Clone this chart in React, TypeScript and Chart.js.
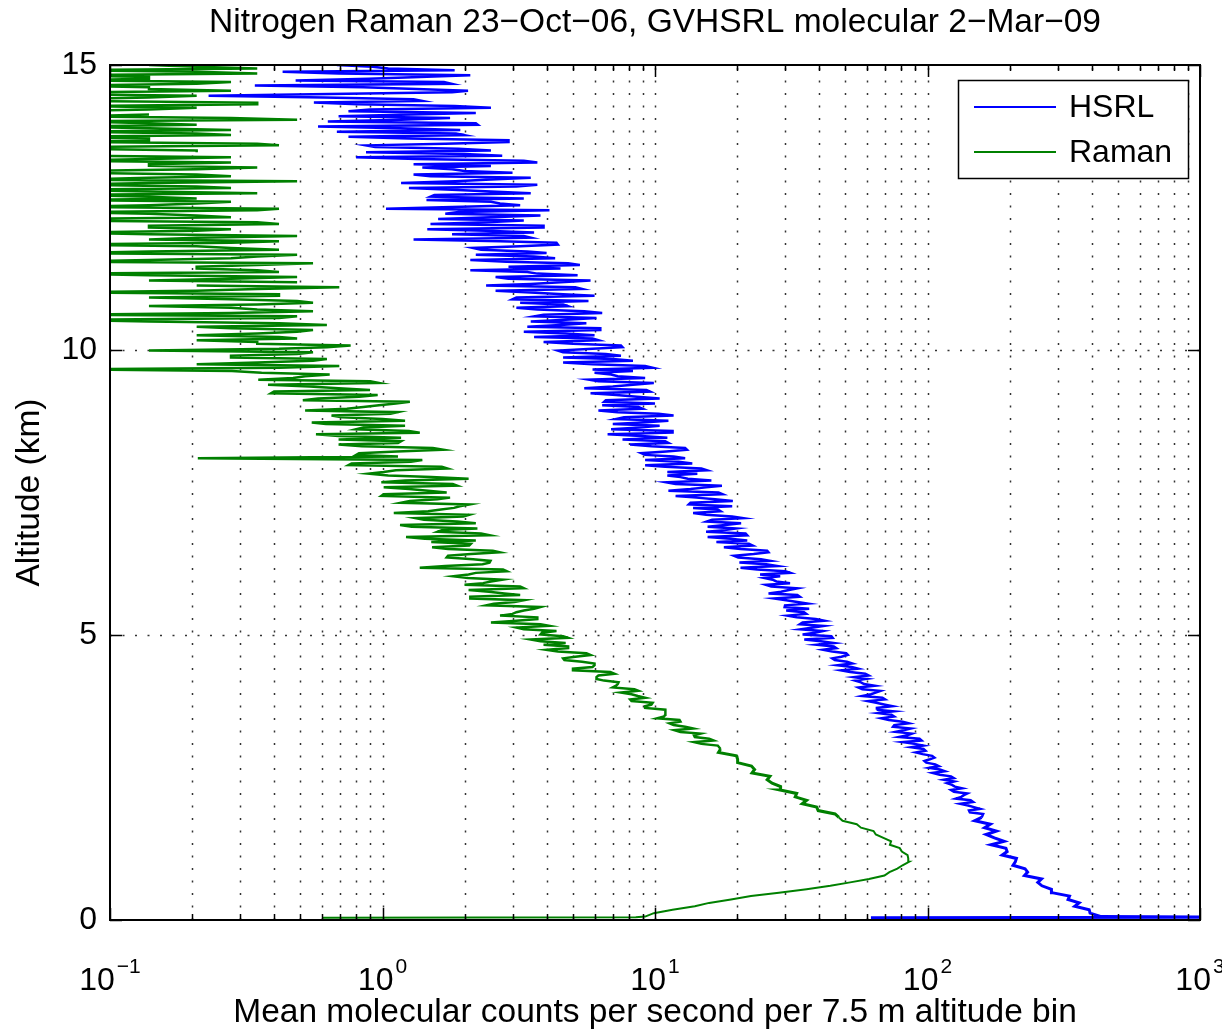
import React, { useEffect, useRef } from "react";
import { Chart, registerables } from "chart.js";

Chart.register(...registerables);

const FONT = '"Liberation Sans", Arial, Helvetica, sans-serif';

// ---------- data ----------
const binKm = 0.06; // altitude spacing of the profile samples (km)

const hsrlSurfaceAltKm = [0.04, 0.05];
const hsrlSurfaceCounts = [62, 1200];
// samples at altitude (i+1)*binKm
const hsrlCounts = [
  434, 395, 392, 347, 360, 328, 332, 286, 285, 263,
  254, 262, 227, 233, 228, 206, 210, 212, 188, 196,
  194, 171, 191, 176, 164, 179, 162, 170, 149, 158,
  160, 142, 148, 132, 144, 133, 140, 122, 126, 118,
  115, 122, 104.5, 111, 110, 99, 102, 104, 90.6, 96.7,
  96.6, 81, 93.5, 84.3, 76.3, 86.7, 75.5, 81, 67.7, 73.7,
  75.3, 65.2, 69.2, 60.4, 68.3, 62, 67.2, 55.8, 58.5, 54.3,
  53.8, 59.1, 48.1, 52.7, 52.9, 45.7, 48.3, 50.3, 41.4, 45.3,
  45.3, 35.3, 44.4, 38.6, 34.3, 41.7, 34.8, 38.9, 30.6, 35.2,
  36.8, 30, 33.3, 27.4, 33.3, 29, 33.3, 25.5, 27.9, 25.2,
  24.3, 30.1, 20.6, 25.6, 26.5, 20.2, 23, 25.8, 17.9, 22.1,
  21.8, 15.6, 21.5, 18, 15.6, 20.7, 16.2, 19.2, 13.8, 17,
  19.2, 13.5, 16.6, 11.9, 17.1, 13.5, 17.6, 11, 13.2, 11.1,
  11.1, 14.8, 9.2, 12.2, 12.9, 9.2, 11, 12.9, 8.1, 10.9,
  11.1, 6.7, 11.6, 8.8, 7.0, 11.2, 7.7, 10.3, 6.2, 8.7,
  10, 6.6, 8.6, 5.8, 9.3, 7.0, 9.9, 5.7, 7.3, 6.0,
  5.9, 9.2, 4.6, 7.0, 7.5, 4.6, 5.9, 7.5, 3.9, 5.9,
  6.0, 3.3, 6.3, 4.5, 3.5, 6.1, 3.9, 5.5, 3.1, 4.6,
  5.7, 3.1, 4.6, 2.6, 5.1, 3.5, 5.8, 2.6, 3.7, 2.1,
  2.9, 4.8, 2.1, 3.6, 4.0, 2.3, 3.2, 4.35, 1.3, 3.3,
  3.6, 1.46, 3.9, 2.4, 1.6, 3.8, 1.9, 1.03, 3.2, 2.5,
  3.3, 1.55, 2.5, 1.25, 3.7, 1.85, 3.5, 1.3, 2.0, 1.4,
  1.3, 3.3, 0.8, 2.0, 2.5, 0.94, 1.7, 2.9, 0.75, 1.86,
  1.93, 0.58, 2.2, 1.17, 0.69, 2.2, 0.9, 1.84, 0.56, 1.3,
  0.23, 1.8, 1.33, 0.34, 1.68, 0.89, 2.1, 0.43, 1.05, 0.68,
];
// in-between samples at altitude (hsrlMidStartBin + k + 0.5)*binKm
const hsrlMidStartBin = 31;
const hsrlMidCounts = [
  143, 156, 141, 147, 127, 136, 125, 134, 123, 125,
  124.9, 110.9, 115.7, 101.5, 106.8, 97.4, 106, 95.9, 98.3, 87.3,
  89.5, 95.1, 78.7, 87.7, 81.6, 74.7, 85.5, 72.1, 75.4, 66,
  65.1, 74.3, 64.9, 69.9, 57.7, 64.5, 57.7, 64, 57, 59.8,
  60.8, 52, 55.7, 46.8, 50.6, 44.7, 51, 44.7, 46.3, 39.3,
  40.6, 44.9, 34.8, 41.3, 38.1, 34, 41.8, 33.1, 35.9, 30.3,
  29.9, 36.4, 30.3, 34, 26.1, 31, 26.7, 31.3, 27, 28.8,
  31.4, 23.7, 28.1, 20.4, 24.5, 19.5, 26.1, 20.6, 22.8, 16.8,
  18.9, 21.8, 15.4, 19.9, 18.1, 15.5, 21.1, 15.4, 17.4, 13.8,
  13.3, 19.3, 14.2, 17.7, 11.2, 15.4, 11.9, 16.1, 12.4, 14.3,
  15.5, 10.9, 13.7, 9.2, 11.7, 8.9, 13.1, 9.7, 11.2, 7.6,
  8.9, 11.6, 6.9, 10.4, 9.0, 7.2, 11.7, 7.3, 9.0, 6.4,
  6.5, 10.4, 7.2, 9.6, 5.5, 8.3, 6.2, 9.2, 6.9, 8.3,
  9.8, 5.9, 8.3, 4.6, 6.6, 4.4, 7.6, 5.0, 6.2, 3.6,
  4.7, 6.3, 3.4, 5.6, 4.7, 3.6, 6.4, 3.7, 4.8, 3.2,
  3.0, 6.0, 3.5, 5.4, 2.4, 4.5, 2.9, 5.2, 3.4, 4.5,
  5.3, 2.85, 4.3, 2.2, 3.4, 2.15, 4.4, 2.7, 3.5, 1.8,
  2.4, 3.9, 1.5, 3.3, 2.5, 1.7, 4.1, 1.8, 2.7, 1.45,
  1.5, 3.5, 1.8, 3.1, 1.17, 2.5, 1.5, 3.0, 1.8, 2.5,
  3.7, 1.34, 2.75, 0.87, 1.9, 0.87, 2.9, 1.25, 2.0, 0.68,
  1.16, 2.24, 0.63, 1.77, 1.27, 0.75, 2.5, 0.81, 1.4, 0.61,
  0.64, 2.06, 0.85, 1.79, 0.48, 1.37, 0.69, 1.84, 0.92,
];

const ramanSurfaceAltKm = [0.04, 0.05];
const ramanSurfaceCounts = [0.6, 8.5];
const ramanCounts = [
  9.2, 9.9, 11.6, 14.0, 15.8, 19.0, 22.5, 28.5, 36, 44,
  52, 61, 69.5, 72.5, 77.5, 81, 85.5, 85, 84.5, 80.5,
  79.1, 72.8, 73.5, 68.9, 64.6, 63.4, 57, 55, 48.8, 47.3,
  45.8, 39.7, 39.2, 34.7, 36, 32.7, 33.1, 28.8, 28.9, 26.9,
  25.8, 26.4, 22.7, 23.2, 22.6, 20.1, 20.1, 19.9, 17.1, 17.4,
  17, 13.9, 15.8, 13.9, 12.4, 13.8, 11.7, 12.4, 10.2, 10.9,
  10.9, 9.2, 9.7, 8.2, 9.2, 8.2, 8.7, 7.0, 7.3, 6.5,
  6.1, 7.1, 5.0, 5.9, 6.0, 4.65, 5.1, 5.6, 4.0, 4.8,
  4.7, 3.5, 4.6, 3.85, 3.3, 4.1, 2.5, 3.7, 2.7, 3.1,
  3.6, 2.4, 3.05, 2.1, 3.2, 2.46, 3.3, 2.0, 2.5, 2.06,
  2.07, 2.86, 1.37, 2.33, 2.49, 1.72, 2.11, 2.54, 1.52, 2.11,
  2.2, 1.22, 2.3, 1.65, 1.28, 2.2, 1.42, 1.98, 1.1, 1.64,
  1.92, 1.17, 1.59, 0.99, 1.72, 1.25, 1.88, 0.99, 2.07, 1.05,
  1.01, 1.73, 0.75, 1.27, 0.21, 0.8, 1.13, 1.53, 0.69, 1.17,
  1.17, 0.57, 1.25, 0.85, 0.62, 1.21, 0.71, 1.07, 0.52, 0.85,
  1.12, 0.51, 0.82, 0.39, 0.9, 0.54, 0.97, 0.35, 0.52, 0.36,
  0.069, 0.694, 0.347, 0.625, 0.278, 0.556, 0.417, 0.764, 0.347, 0.486,
  0.208, 0.486, 0.278, 0.625, 0.139, 0.417, 0.069, 0.556, 0.278, 0.347,
  0.486, 0.139, 0.417, 0.208, 0.694, 0, 0.139, 0.486, 0.069, 0.347,
  0.208, 0.556, 0.139, 0.347, 0.069, 0.417, 0.208, 0.278, 0.139, 0.486,
  0.069, 0.278, 0.139, 0.347, 0.069, 0.208, 0.069, 0.417, 0.139, 0.278,
  0.208, 0.069, 0.139, 0.278, 0.069, 0.486, 0.139, 0.208, 0.069, 0.347,
  0.139, 0.069, 0.278, 0, 0.208, 0.069, 0.347, 0.139, 0.069, 0.208,
  0.278, 0.069, 0.139, 0.486, 0.069, 0, 0.139, 0.069, 0.347, 0.069,
  0.208, 0.069, 0.139, 0.069, 0.278, 0.139, 0.069, 0.208, 0.347, 0.139,
];
const ramanMidStartBin = 51;
const ramanMidCounts = [
  14.8, 16.4, 14, 14.7, 11.8, 12.9, 11.3, 12.3, 10.8, 10.95,
  10.9, 9.2, 9.8, 8.1, 8.65, 7.5, 8.4, 7.2, 7.35, 6.1,
  6.2, 6.85, 5.0, 6.0, 5.4, 4.6, 5.8, 4.4, 4.8, 3.9,
  3.8, 4.8, 3.8, 4.35, 3.1, 3.8, 3.1, 3.7, 3.0, 3.3,
  3.8, 2.56, 3.3, 2.1, 2.8, 2.07, 3.2, 2.34, 2.75, 1.82,
  2.2, 2.77, 1.7, 2.47, 2.15, 1.74, 2.7, 1.74, 2.08, 1.51,
  1.43, 2.47, 1.59, 2.23, 1.16, 1.88, 1.32, 2.08, 1.47, 1.83,
  2.08, 1.26, 1.77, 1.01, 1.47, 1.01, 1.81, 1.21, 1.51, 0.89,
  1.12, 1.65, 0.77, 1.4, 1.14, 0.82, 1.67, 0.84, 1.14, 0.69,
  0.69, 1.37, 0.8, 1.21, 0.55, 1.0, 0.65, 1.14, 0.74, 0.97,
  1.26, 0.58, 0.96, 0.4, 0.69, 0.38, 0.9, 0.47, 0.64, 0.28,
  0.417, 0.208, 0.556, 0.278, 0.486, 0.139, 0.625, 0.347, 0.208, 0.417,
  0.347, 0.556, 0.208, 0.417, 0.069, 0.486, 0.278, 0.347, 0.139, 0.556,
  0.278, 0.417, 0.069, 0.347, 0.208, 0.486, 0.278, 0.139, 0.417, 0.208,
  0.347, 0.069, 0.278, 0.486, 0.139, 0.278, 0.069, 0.417, 0.208, 0.139,
  0.208, 0.139, 0.417, 0.069, 0.278, 0.139, 0.347, 0.069, 0.208, 0.069,
  0.139, 0.347, 0.069, 0.208, 0.139, 0.069, 0.278, 0.069, 0.208, 0.139,
  0.278, 0.139, 0.069, 0.208, 0.069, 0.417, 0.069, 0.139, 0.278, 0.069,
  0.139, 0.208, 0.069, 0.278, 0.139, 0.069, 0.208, 0.347, 0.069, 0.139,
  0.069, 0.278, 0.139, 0.208, 0.069, 0.139, 0.347, 0.069, 0.208,
];

const seriesLabels = ["HSRL", "Raman"];
const seriesColors = ["#0000ff", "#008000"];

const xMajorTicks = [0.1, 1, 10, 100, 1000];
const xTickBase = "10";
const xTickExponents = ["\u22121", "0", "1", "2", "3"];
const xMinorMultipliers = [2, 3, 4, 5, 6, 7, 8, 9];
const yTicks = [0, 5, 10, 15];
const yGridLines = [5, 10];

const titleText = "Nitrogen Raman 23\u2212Oct\u221206, GVHSRL molecular 2\u2212Mar\u221209";
const xTitle = "Mean molecular counts per second per 7.5 m altitude bin";
const yTitle = "Altitude (km)";

const TEXT_SIZE = 33.5;

// ---------- helpers ----------
const r3 = (v: number) => Math.round(v * 1000) / 1000;
const toPoints = (surfAlt: number[], surfVals: number[], vals: number[], midStart: number, midVals: number[]) =>
  [
    ...surfAlt.map((a, i) => ({ x: surfVals[i], y: a })),
    ...vals.map((v, i) => ({ x: v, y: r3((i + 1) * binKm) })),
    ...midVals.map((v, k) => ({ x: v, y: r3((midStart + k + 0.5) * binKm) })),
  ].sort((a, b) => a.y - b.y);

const xMinorTicks: number[] = [];
xMajorTicks.slice(0, -1).forEach((m) => xMinorMultipliers.forEach((k) => xMinorTicks.push(+(m * k).toPrecision(3))));
const xAllTicks = [...xMajorTicks, ...xMinorTicks].sort((a, b) => a - b);

const axesPlugin = {
  id: "matlabAxes",
  beforeDatasetsDraw(chart: any) {
    const { ctx, chartArea, scales } = chart;
    const { left, right, top, bottom } = chartArea;
    ctx.save();
    ctx.beginPath();
    ctx.rect(left, top, right - left, bottom - top);
    ctx.clip();
    ctx.strokeStyle = "rgba(0,0,0,0.8)";
    ctx.lineWidth = 1.5;
    ctx.setLineDash([2, 10.5]);
    for (const v of xAllTicks) {
      if (v === xMajorTicks[0] || v === xMajorTicks[xMajorTicks.length - 1]) continue;
      const px = Math.round(scales.x.getPixelForValue(v)) + 0.5;
      ctx.beginPath();
      ctx.moveTo(px, bottom);
      ctx.lineTo(px, top);
      ctx.stroke();
    }
    for (const v of yGridLines) {
      const py = Math.round(scales.y.getPixelForValue(v)) + 0.5;
      ctx.beginPath();
      ctx.moveTo(left, py);
      ctx.lineTo(right, py);
      ctx.stroke();
    }
    ctx.restore();
  },
  afterDatasetsDraw(chart: any) {
    const { ctx, chartArea, scales, data } = chart;
    const { left, right, top, bottom } = chartArea;
    ctx.save();
    ctx.strokeStyle = "#000";
    ctx.lineWidth = 1.5;
    ctx.setLineDash([]);
    for (const v of xAllTicks) {
      const px = Math.round(scales.x.getPixelForValue(v)) + 0.5;
      const len = xMajorTicks.includes(v) ? 12 : 6;
      ctx.beginPath();
      ctx.moveTo(px, bottom);
      ctx.lineTo(px, bottom - len);
      ctx.moveTo(px, top);
      ctx.lineTo(px, top + len);
      ctx.stroke();
    }
    for (const v of yTicks) {
      const py = Math.round(scales.y.getPixelForValue(v)) + 0.5;
      ctx.beginPath();
      ctx.moveTo(left, py);
      ctx.lineTo(left + 12, py);
      ctx.moveTo(right, py);
      ctx.lineTo(right - 12, py);
      ctx.stroke();
    }
    ctx.lineWidth = 2;
    ctx.strokeRect(left, top, right - left, bottom - top);

    // legend
    const lw = 230, lh = 98;
    const lx = right - 12 - lw, ly = top + 15;
    ctx.fillStyle = "#fff";
    ctx.fillRect(lx, ly, lw, lh);
    ctx.lineWidth = 1.5;
    ctx.strokeRect(lx + 0.5, ly + 0.5, lw, lh);
    ctx.font = `32px ${FONT}`;
    ctx.textAlign = "left";
    ctx.textBaseline = "middle";
    data.datasets.forEach((ds: any, i: number) => {
      const yy = ly + 27 + i * 45;
      ctx.strokeStyle = ds.borderColor;
      ctx.lineWidth = 2;
      ctx.beginPath();
      ctx.moveTo(lx + 16, yy);
      ctx.lineTo(lx + 98, yy);
      ctx.stroke();
      ctx.fillStyle = "#000";
      ctx.fillText(ds.label, lx + 111, yy + 1);
    });

    // x tick labels: 10 with raised exponent
    ctx.fillStyle = "#000";
    ctx.textBaseline = "alphabetic";
    ctx.textAlign = "left";
    xMajorTicks.forEach((v, i) => {
      const px = scales.x.getPixelForValue(v);
      ctx.font = `32px ${FONT}`;
      const bw = ctx.measureText(xTickBase).width;
      ctx.font = `21px ${FONT}`;
      const ew = ctx.measureText(xTickExponents[i]).width;
      const total = bw + 2 + ew;
      const x0 = px - total / 2;
      ctx.font = `32px ${FONT}`;
      ctx.fillText(xTickBase, x0, 990);
      ctx.font = `21px ${FONT}`;
      ctx.fillText(xTickExponents[i], x0 + bw + 2, 973);
    });
    ctx.restore();
  },
};

export default function App() {
  const canvasRef = useRef<HTMLCanvasElement | null>(null);

  useEffect(() => {
    if (!canvasRef.current) return;
    const hsrlPts = toPoints(hsrlSurfaceAltKm, hsrlSurfaceCounts, hsrlCounts, hsrlMidStartBin, hsrlMidCounts);
    const ramanPts = toPoints(ramanSurfaceAltKm, ramanSurfaceCounts, ramanCounts, ramanMidStartBin, ramanMidCounts);
    const common = {
      pointRadius: 0,
      tension: 0,
      clip: { left: 0, right: 0, top: 0, bottom: 3 },
    };
    const chart = new Chart(canvasRef.current, {
      type: "line",
      data: {
        datasets: [
          {
            ...common,
            label: seriesLabels[0],
            data: hsrlPts,
            borderColor: seriesColors[0],
            backgroundColor: seriesColors[0],
            borderWidth: 2.5,
            segment: { borderWidth: (c: any) => (c.p0.parsed.y < 1.8 ? 3 : 2.5) },
            order: 1,
          },
          {
            ...common,
            label: seriesLabels[1],
            data: ramanPts,
            borderColor: seriesColors[1],
            backgroundColor: seriesColors[1],
            borderWidth: 2,
            segment: { borderWidth: (c: any) => (c.p0.parsed.y < 1.8 ? 2 : c.p0.parsed.y < 3 ? 3 : 2.5) },
            order: 0,
          },
        ],
      } as any,
      options: {
        indexAxis: "y",
        animation: false,
        responsive: false,
        devicePixelRatio: 1,
        events: [],
        layout: { padding: { left: 0, right: 22, top: 0, bottom: 0 } },
        plugins: {
          legend: { display: false },
          tooltip: { enabled: false },
          title: {
            display: true,
            fullSize: false,
            text: titleText,
            color: "#000",
            font: { family: FONT, size: TEXT_SIZE, weight: "normal" },
            padding: { top: 3, bottom: 65 - 3 - TEXT_SIZE * 1.2 },
          },
        },
        scales: {
          x: {
            type: "logarithmic",
            position: "bottom",
            min: 0.1,
            max: 1000,
            afterBuildTicks: (s: any) => {
              s.ticks = xAllTicks.map((v) => ({ value: v, major: xMajorTicks.includes(v) }));
            },
            ticks: { display: false },
            grid: { display: false, drawTicks: false },
            border: { display: false },
            title: {
              display: true,
              text: xTitle,
              color: "#000",
              font: { family: FONT, size: TEXT_SIZE },
              padding: { top: 0, bottom: 0 },
            },
            afterFit: (s: any) => {
              s.height = 113;
            },
          },
          y: {
            type: "linear",
            position: "left",
            min: 0,
            max: 15,
            afterBuildTicks: (s: any) => {
              s.ticks = yTicks.map((v) => ({ value: v }));
            },
            ticks: {
              color: "#000",
              font: { family: FONT, size: 32 },
              padding: 13,
              callback: (v: any) => String(v),
            },
            grid: { display: false, drawTicks: false },
            border: { display: false },
            title: {
              display: true,
              text: yTitle,
              color: "#000",
              font: { family: FONT, size: TEXT_SIZE },
              padding: { top: 10, bottom: 0 },
            },
            afterFit: (s: any) => {
              s.width = 110;
            },
          },
        },
      } as any,
      plugins: [axesPlugin],
    });
    return () => chart.destroy();
  }, []);

  return (
    <div style={{ position: "fixed", left: 0, top: 0, width: 1222, height: 1033, background: "#fff" }}>
      <canvas ref={canvasRef} width={1222} height={1033} style={{ width: 1222, height: 1033, display: "block" }} />
    </div>
  );
}
